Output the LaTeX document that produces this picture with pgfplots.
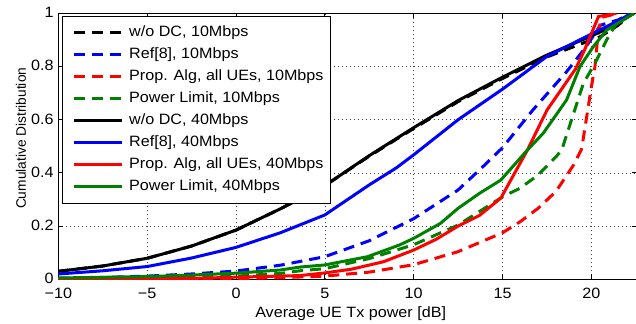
\documentclass[border=0pt]{standalone}
\usepackage{fontspec}
\setmainfont{Liberation Sans}[FakeStretch=1.08]
\newfontfamily\yfont{Liberation Sans}
\usepackage{pgfplots}
\pgfplotsset{compat=1.18}
\definecolor{mgreen}{rgb}{0,0.5,0}
\begin{document}
\begin{tikzpicture}
\begin{axis}[
 scale only axis, width=578.7bp, height=266bp,
 xmin=-10, xmax=22.566, ymin=0, ymax=1,
 xtick={-10,-5,0,5,10,15,20}, xticklabels={−10,−5,0,5,10,15,20},
 ytick={0,0.2,0.4,0.6,0.8,1}, yticklabels={0,0.2,0.4,0.6,0.8,1},
 tick align=inside, tick pos=both, major tick length=5bp,
 xmajorgrids, ymajorgrids,
 grid style={black!75, line width=0.5bp, dash pattern=on 1bp off 3bp},
 axis line style={line width=0.8bp},
 tick style={line width=0.8bp, black},
 ticklabel style={font=\fontsize{15}{17}\selectfont, inner sep=0.5bp},
 xticklabel style={yshift=-8bp},
 yticklabel style={xshift=-4bp, yshift=0.8bp},
 every axis x label/.style={at={(axis description cs:0.5,0)}, anchor=center, yshift=-34bp, xshift=3bp, font=\fontsize{15}{17}\selectfont},
 every axis y label/.style={at={(axis description cs:-0.0645,0.53)}, anchor=center, rotate=90, font=\fontsize{13.8}{16}\selectfont},
 xlabel={Average UE Tx power [dB]},
 ylabel={\yfont Cumulative Distribution},
 legend cell align=left,
 legend image code/.code={\path (0bp,0bp); \draw[#1, line width=3bp] (3.3bp,0bp) -- (51.3bp,0bp);},
 legend style={at={(0.006,0.99)}, anchor=north west, draw=black, line width=0.8bp,
   font=\fontsize{15}{17}\selectfont, inner xsep=6.7bp, inner ysep=9.4bp, row sep=7.8bp,
   nodes={inner sep=0bp, text height=11bp, text depth=3.2bp},
   /tikz/every odd column/.append style={column sep=6bp}},
 dsh/.style={line width=3bp, dash pattern=on 11bp off 7bp},
 sol/.style={line width=3bp},
]
% w/o DC 10Mbps
\addplot[black, dsh] coordinates {(-10,0.030) (-7.5,0.050) (-5,0.079) (-2.5,0.125) (0,0.185) (2.5,0.265) (5,0.352) (7.5,0.463) (10,0.567) (12.5,0.668) (15,0.755) (17.5,0.836) (20,0.900) (20.5,0.912) (21.5,0.955) (22.3,1.0)};
% Ref[8] 10Mbps
\addplot[blue, dsh] coordinates {(-10,0.004) (-7.5,0.007) (-5,0.012) (-2.5,0.020) (0,0.031) (2.5,0.053) (5,0.085) (7.5,0.145) (10,0.228) (12.5,0.336) (14,0.43) (15,0.495) (16.7,0.636) (18.6,0.78) (19.7,0.874) (20.5,0.955) (21.5,0.975) (22.2,1.0)};
% Prop Alg 10Mbps
\addplot[red, dsh] coordinates {(-10,0.0) (-5,0.001) (0,0.003) (2.5,0.006) (5,0.012) (7.5,0.027) (10,0.055) (12.5,0.104) (15,0.175) (16,0.217) (17,0.267) (18,0.33) (19,0.43) (19.45,0.49) (20.0,0.724) (20.2,0.8) (20.4,0.94) (20.6,0.985) (21.5,1.0)};
% Power Limit 10Mbps
\addplot[mgreen, dsh] coordinates {(-10,0.002) (-5,0.005) (0,0.012) (2.5,0.022) (3.6,0.032) (5,0.040) (7.5,0.078) (10,0.13) (12.5,0.204) (15,0.31) (16,0.343) (17,0.392) (18,0.46) (18.33,0.486) (19,0.624) (19.55,0.737) (20.2,0.812) (20.86,0.9) (21.4,0.962) (22.2,1.0)};
% w/o DC 40Mbps
\addplot[black, sol] coordinates {(-10,0.030) (-7.5,0.050) (-5,0.079) (-2.5,0.125) (0,0.185) (2.5,0.265) (5,0.352) (7.5,0.465) (10,0.570) (12.5,0.672) (15,0.760) (17.5,0.843) (20,0.915) (21,0.945) (22.4,1.0)};
% Ref[8] 40Mbps
\addplot[blue, sol] coordinates {(-10,0.020) (-7.5,0.032) (-5,0.048) (-2.5,0.080) (0,0.120) (2.5,0.175) (5,0.242) (7.5,0.355) (9,0.418) (10,0.468) (12.5,0.600) (15,0.715) (17.5,0.838) (20,0.922) (21,0.955) (22.3,1.0)};
% Prop Alg 40Mbps
\addplot[red, sol] coordinates {(-10,0.001) (-5,0.002) (-2,0.004) (0,0.008) (3.6,0.014) (5,0.024) (6.5,0.038) (8.3,0.066) (10,0.11) (11.25,0.15) (12.5,0.2) (13.7,0.24) (14.9,0.305) (16.4,0.486) (17.5,0.636) (19.1,0.79) (19.6,0.86) (20.4,0.988) (21.4,1.0)};
% Power Limit 40Mbps
\addplot[mgreen, sol] coordinates {(-10,0.005) (-5,0.010) (-2.5,0.016) (0,0.023) (2.5,0.035) (3.6,0.046) (5,0.054) (7.4,0.085) (9.2,0.129) (10,0.154) (11.5,0.21) (12.5,0.267) (13.7,0.323) (14.9,0.373) (16.4,0.486) (17.3,0.55) (18.6,0.674) (19.36,0.80) (20.1,0.874) (20.86,0.937) (21.8,0.975) (22.4,1.0)};
\legend{w/o DC{,} 10Mbps, Ref[8]{,} 10Mbps, Prop. Alg{,} all UEs{,} 10Mbps, Power Limit{,} 10Mbps, w/o DC{,} 40Mbps, Ref[8]{,} 40Mbps, Prop. Alg{,} all UEs{,} 40Mbps, Power Limit{,} 40Mbps}
\end{axis}
\pgfresetboundingbox
\path[use as bounding box] ([shift={(-58.3bp,-44.7bp)}]current axis.south west) rectangle ([shift={(-1bp,13.3bp)}]current axis.north east);
\end{tikzpicture}
\end{document}
